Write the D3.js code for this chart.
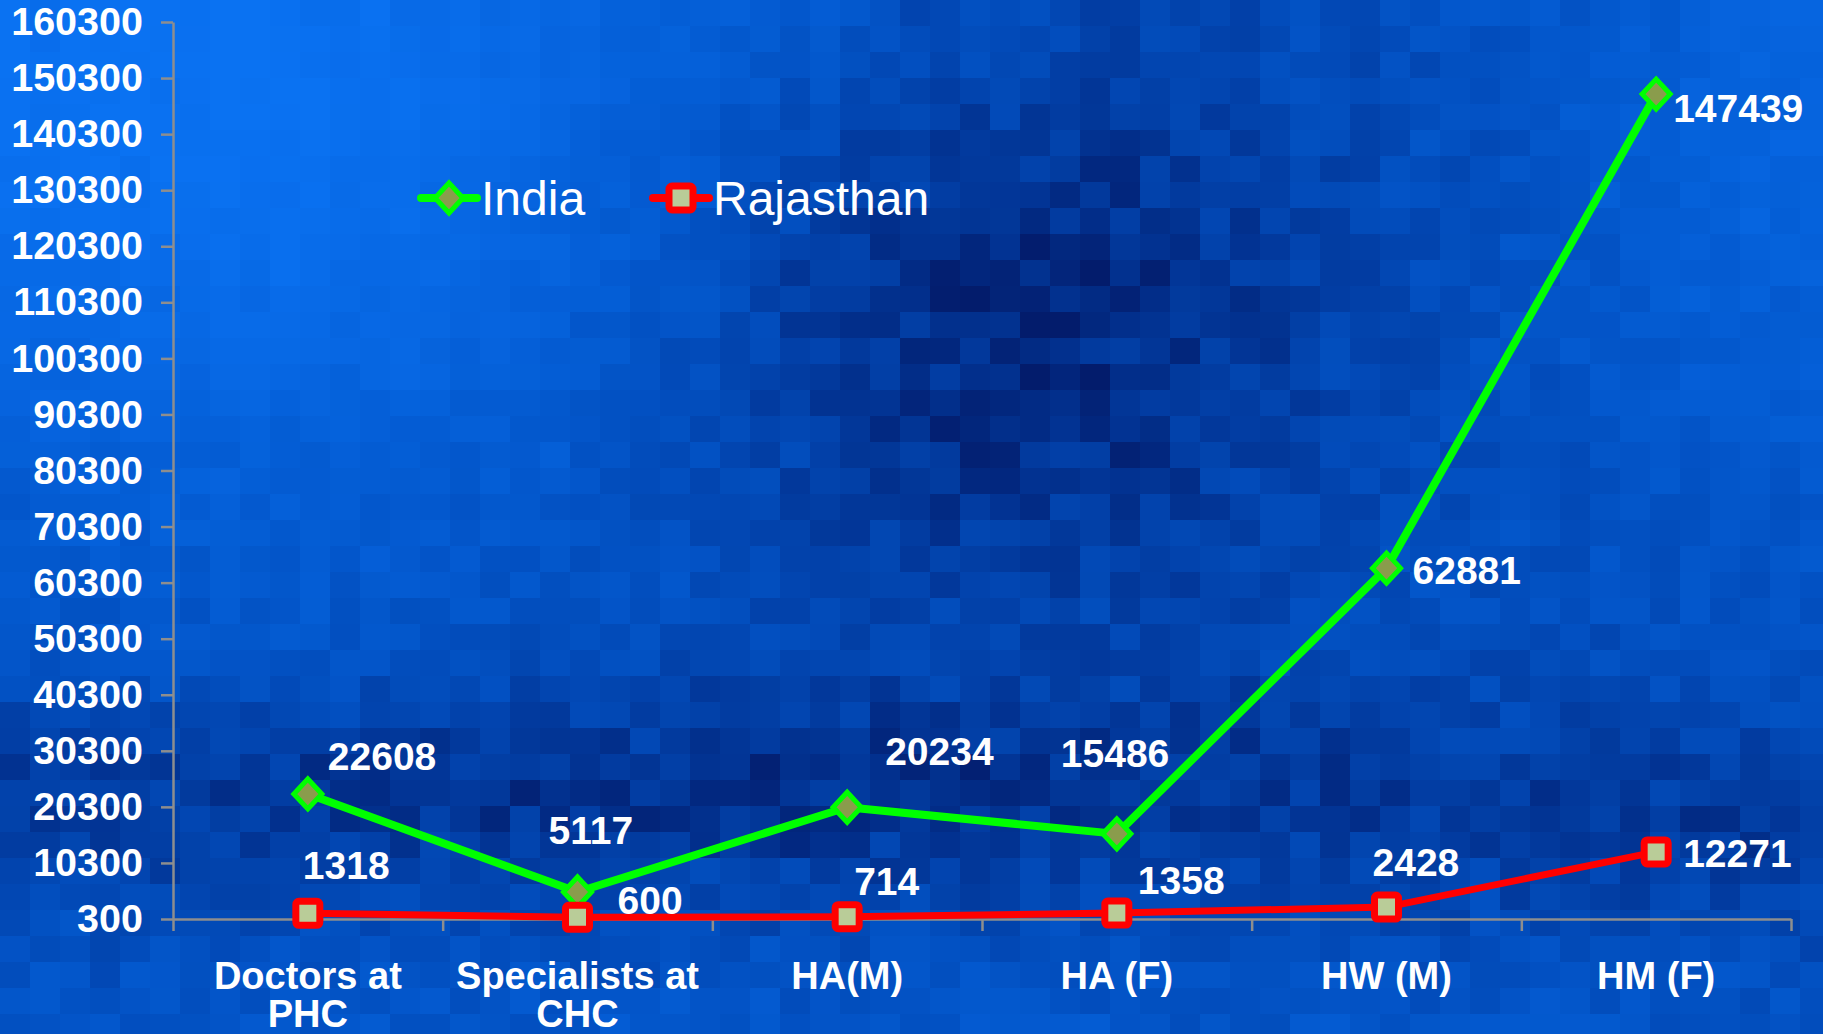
<!DOCTYPE html>
<html lang="en">
  <head>
    <meta charset="utf-8">
    <title>India vs Rajasthan</title>
    <style>
      body {
        margin: 0;
        overflow: hidden;
        font-family: "Liberation Sans", Arial, Helvetica, sans-serif;
      }
    </style>
  </head>
  <body>
    <svg width="1823" height="1034"></svg>
    <script src="https://d3js.org/d3.v7.min.js"></script>
    <script>
      const categories = ["Doctors at\nPHC", "Specialists at\nCHC", "HA(M)", "HA (F)", "HW (M)", "HM (F)"];
      const india = [22608, 5117, 20234, 15486, 62881, 147439];
      const rajasthan = [1318, 600, 714, 1358, 2428, 12271];
      const yTicks = d3.range(300, 160301, 10000);

      // where each value label sits relative to its point (left edge, middle)
      const indiaLabelShift = [[20, -38], [-29, -62], [38, -56], [-56, -81], [26, 2], [17, 14]];
      const rajLabelShift = [[-5, -48], [40, -17], [7, -36], [21, -33], [-14, -45], [27, 1]];

      const width = 1823, height = 1034;
      const plotLeft = 173, plotRight = 1791, plotTop = 22, plotBottom = 919;

      const svg = d3.select("svg");

      // background mosaic: bright top left, dark middle, dark band near the axis
      function darkness(x, y) {
        const blob = (cx, cy, rx, ry) => Math.exp(-(((x - cx) / rx) ** 2 + ((y - cy) / ry) ** 2));
        let d = 0.5;
        d -= 0.5 * blob(200, 80, 620, 430);
        d += 0.45 * blob(1000, 320, 320, 280);
        d += 0.32 * blob(700, 790, 1000, 95);
        d += 0.15 * blob(1700, 840, 250, 80);
        d -= 0.28 * blob(1820, 120, 260, 360);
        d -= 0.08 * blob(900, 1034, 1400, 70);
        return d;
      }
      function hash(i, j) {
        const s = Math.sin(i * 12.9898 + j * 78.233) * 43758.5453;
        return s - Math.floor(s);
      }
      const shade = d3.interpolateRgbBasis(["#0a72f2", "#0052c6", "#031c6c"]);
      const bw = 30, bh = 26;
      const cells = [];
      for (let j = 0; j * bh < height; j++) {
        for (let i = 0; i * bw < width; i++) {
          const d = darkness(i * bw + bw / 2, j * bh + bh / 2);
          const amp = 0.03 + 0.22 * Math.max(0, Math.min(1, d)) ** 1.5;
          const v = d + (hash(i, j) - 0.5) * amp * 1.6 + (hash(i, Math.floor(j / 3)) - 0.5) * 0.06;
          cells.push({ i, j, v: Math.max(0, Math.min(1, v)) });
        }
      }
      svg.append("g")
        .selectAll("rect")
        .data(cells)
        .join("rect")
          .attr("x", d => d.i * bw)
          .attr("y", d => d.j * bh)
          .attr("width", bw + 0.5)
          .attr("height", bh + 0.5)
          .attr("fill", d => shade(d.v));

      const x = d3.scaleBand().domain(categories).range([plotLeft, plotRight]);
      const xEdge = d3.scaleLinear().domain([0, categories.length]).range([plotLeft, plotRight]);
      const y = d3.scaleLinear().domain([300, 160300]).range([plotBottom, plotTop]);
      const cx = c => x(c) + x.bandwidth() / 2;

      // y axis
      const yAxis = svg.append("g")
        .attr("transform", `translate(${plotLeft},0)`)
        .call(d3.axisLeft(y).tickValues(yTicks).tickFormat(d3.format("d")).tickSize(12).tickSizeOuter(0).tickPadding(18));
      yAxis.select(".domain").attr("stroke", "#8e8e8e").attr("stroke-width", 2.5);
      yAxis.selectAll(".tick line").attr("stroke", "#8e8e8e").attr("stroke-width", 2.5);
      yAxis.selectAll(".tick text")
        .attr("fill", "#fff")
        .attr("font-size", 39.5)
        .attr("font-weight", "bold")
        .attr("font-family", "Liberation Sans, Arial, sans-serif");

      // x axis: ticks on band edges
      const xAxis = svg.append("g")
        .attr("transform", `translate(0,${plotBottom})`)
        .call(d3.axisBottom(xEdge).tickValues(d3.range(categories.length + 1)).tickFormat("").tickSize(12).tickSizeOuter(0));
      xAxis.select(".domain").attr("stroke", "#8e8e8e").attr("stroke-width", 2.5);
      xAxis.selectAll(".tick line").attr("stroke", "#8e8e8e").attr("stroke-width", 2.5);

      const xLabels = svg.append("g")
        .selectAll("text")
        .data(categories)
        .join("text")
          .attr("text-anchor", "middle")
          .attr("fill", "#fff")
          .attr("font-size", 38)
          .attr("font-weight", "bold")
          .attr("transform", d => `translate(${cx(d)},989)`);
      xLabels.selectAll("tspan")
        .data(d => d.split("\n"))
        .join("tspan")
          .attr("x", 0)
          .attr("y", (d, i) => i * 38)
          .text(d => d);

      const line = d3.line()
        .x((d, i) => cx(categories[i]))
        .y(d => y(d));

      const diamond = "M0,-15L14,0L0,15L-14,0Z";

      function drawSeries(values, color, lineWidth, marker) {
        const g = svg.append("g");
        g.append("path")
          .datum(values)
          .attr("d", line)
          .attr("fill", "none")
          .attr("stroke", color)
          .attr("stroke-width", lineWidth)
          .attr("stroke-linejoin", "round");
        g.selectAll("g")
          .data(values)
          .join("g")
            .attr("transform", (d, i) => `translate(${cx(categories[i])},${y(d)})`)
            .each(function () { marker(d3.select(this)); });
      }

      function diamondMarker(sel) {
        sel.append("path")
          .attr("d", diamond)
          .attr("fill", "#8a9c4c")
          .attr("stroke", "#00ff00")
          .attr("stroke-width", 5)
          .attr("stroke-linejoin", "miter");
      }
      function squareMarker(sel) {
        sel.append("rect")
          .attr("x", -12).attr("y", -12)
          .attr("width", 24).attr("height", 24)
          .attr("rx", 3)
          .attr("fill", "#b9cc98")
          .attr("stroke", "#ff0000")
          .attr("stroke-width", 7);
      }

      drawSeries(india, "#00ff00", 8, diamondMarker);
      drawSeries(rajasthan, "#ff0000", 7, squareMarker);

      function drawLabels(values, shifts) {
        svg.append("g")
          .selectAll("text")
          .data(values)
          .join("text")
            .attr("x", (d, i) => cx(categories[i]) + shifts[i][0])
            .attr("y", (d, i) => y(d) + shifts[i][1])
            .attr("dy", "0.36em")
            .attr("fill", "#fff")
            .attr("font-size", 39)
            .attr("font-weight", "bold")
            .text(d => d);
      }
      drawLabels(india, indiaLabelShift);
      drawLabels(rajasthan, rajLabelShift);

      // legend
      const legend = svg.append("g").attr("transform", "translate(0,198)");
      const items = [
        { name: "India", color: "#00ff00", x: 421, marker: diamondMarker },
        { name: "Rajasthan", color: "#ff0000", x: 653, marker: squareMarker }
      ];
      items.forEach(it => {
        const g = legend.append("g").attr("transform", `translate(${it.x},0)`);
        g.append("line")
          .attr("x1", 0).attr("x2", 56)
          .attr("stroke", it.color)
          .attr("stroke-width", 8)
          .attr("stroke-linecap", "round");
        it.marker(g.append("g").attr("transform", "translate(28,0)"));
        g.append("text")
          .attr("x", 60)
          .attr("dy", "0.36em")
          .attr("fill", "#fff")
          .attr("font-size", 48)
          .text(it.name);
      });
    </script>
  </body>
</html>
